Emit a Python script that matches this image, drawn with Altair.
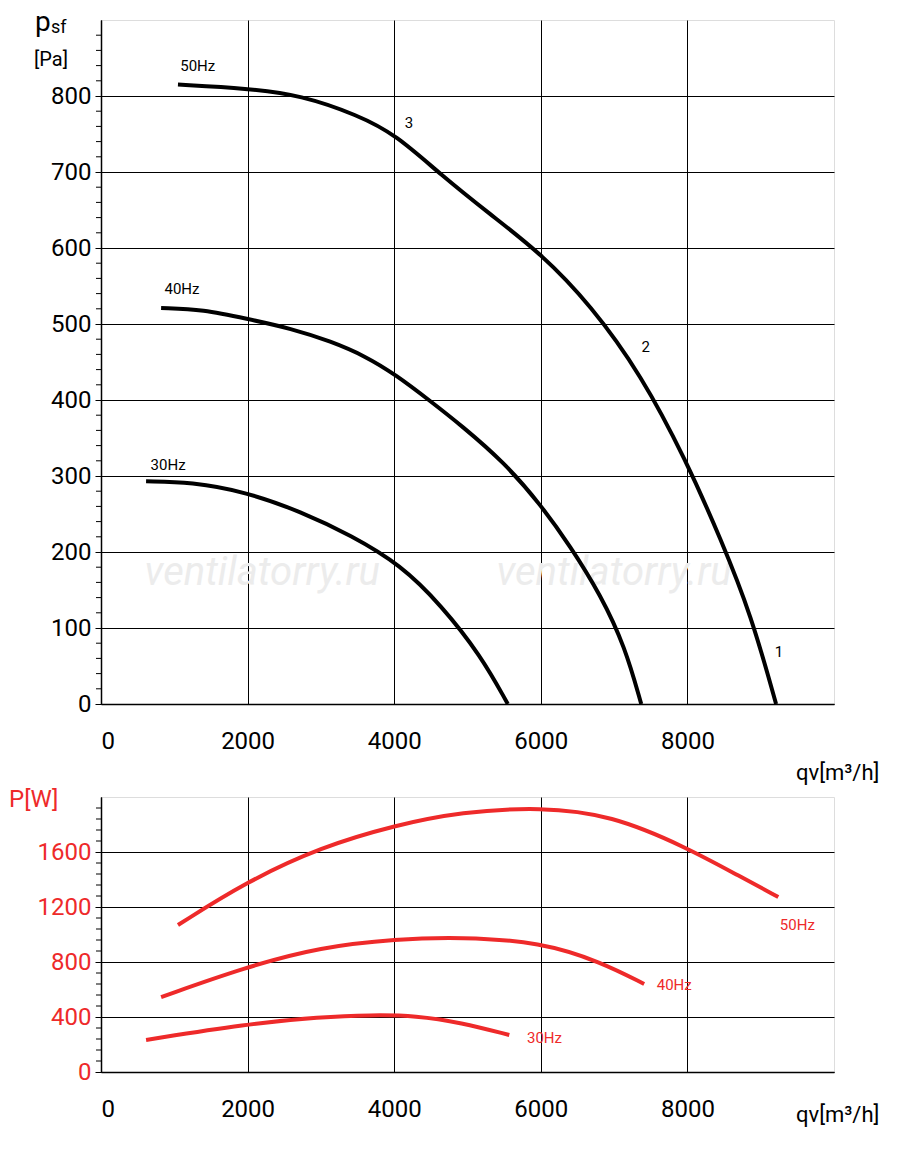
import altair as alt
import pandas as pd

# pressure curves (q m3/h, p Pa)
q50 = [1050, 2000, 2730, 3500, 4025, 4640, 5300, 6000, 6680, 7370, 7980, 8460, 8870, 9210]
p50 = [815, 810, 801, 775, 749, 696, 645, 593, 525, 433, 321, 216, 117, 0]
q40 = [820, 1400, 1980, 2600, 3140, 3600, 4025, 4500, 4910, 5500, 6000, 6400, 6820, 7150, 7370]
p40 = [521, 519, 507, 494, 477, 458, 433, 398, 367, 318, 262, 208, 143, 75, 0]
q30 = [615, 1230, 1980, 2730, 3410, 4090, 4640, 5180, 5550]
p30 = [293, 292, 279, 253, 222, 183, 130, 64, 0]

# power curves (q, W)
wq50 = [1050, 1980, 3000, 4025, 4910, 6000, 6960, 7980, 8730, 9240]
w50 = [1069, 1382, 1636, 1796, 1891, 1927, 1869, 1636, 1418, 1273]
wq40 = [820, 1980, 3000, 4025, 4910, 6000, 6820, 7410]
w40 = [545, 764, 909, 967, 982, 945, 800, 640]
wq30 = [615, 1980, 3000, 3680, 4300, 4910, 5570]
w30 = [233, 349, 400, 415, 410, 360, 269]

top_labels = pd.DataFrame({"q": [1320, 4200, 7430, 9250, 1105, 915],
                           "p": [840, 764, 470, 68, 546, 314],
                           "t": ["50Hz", "3", "2", "1", "40Hz", "30Hz"]})
bot_labels = pd.DataFrame({"q": [9500, 7820, 6050], "w": [1069, 633, 247],
                           "t": ["50Hz", "40Hz", "30Hz"]})
marks = pd.DataFrame({"q": [2200, 7000], "p": [172, 172],
                      "t": ["ventilatorry.ru", "ventilatorry.ru"]})

p_major = list(range(0, 801, 100))
p_minor = [v for v in range(0, 901, 20) if v % 100]
w_major = list(range(0, 1601, 400))
w_minor = [v for v in range(0, 2001, 80) if v % 400]
q_major = [0, 2000, 4000, 6000, 8000]

FONT = "Roboto"
RED = "#ee2a2a"


def curves(qs, vs, name):
    rows = []
    for lab, q, v in zip(["50", "40", "30"], qs, vs):
        for i, (a, b) in enumerate(zip(q, v)):
            rows.append({"q": a, name: b, "s": lab, "o": i})
    return pd.DataFrame(rows)


def text(t, x, y, size, color="black"):
    return alt.Chart(pd.DataFrame({"t": [t]})).mark_text(
        fontSize=size, font=FONT, align="left", color=color).encode(
        x=alt.value(x), y=alt.value(y), text="t:N")


def minor_ticks(vals, scale):
    return alt.Chart(pd.DataFrame({"v": vals})).mark_rule(color="black", strokeWidth=1).encode(
        y=alt.Y("v:Q", scale=scale), x=alt.value(-5), x2=alt.value(0))


xs = alt.Scale(domain=[0, 10000], nice=False)
xaxis = alt.Axis(values=q_major, title=None, grid=True, format="d",
                 gridColor="black", gridOpacity=1, tickSize=0, labelFontSize=24,
                 labelColor="black", labelPadding=25, domainColor="black", domainWidth=1.5,
                 labelFont=FONT, labelOverlap=False)


def yaxis(vals, color):
    return alt.Axis(values=vals, title=None, format="d", grid=True, gridColor="black",
                    gridOpacity=1, tickSize=6, tickColor="black", labelFontSize=24,
                    labelColor=color, domainColor="black", domainWidth=1.5, labelFont=FONT,
                    labelPadding=4, labelOverlap=False)


ys1 = alt.Scale(domain=[0, 900], nice=False)
base1 = alt.Chart(curves([q50, q40, q30], [p50, p40, p30], "p"))
top = alt.layer(
    alt.Chart(marks).mark_text(fontSize=40, fontStyle="italic", color="#ececec", font=FONT).encode(
        x=alt.X("q:Q", scale=xs, axis=xaxis), y=alt.Y("p:Q", scale=ys1, axis=yaxis(p_major, "black")),
        text="t:N"),
    minor_ticks(p_minor, ys1),
    base1.mark_line(color="black", strokeWidth=4, interpolate="basis").encode(
        x=alt.X("q:Q", scale=xs), y=alt.Y("p:Q", scale=ys1), detail="s:N", order="o:Q"),
    alt.Chart(top_labels).mark_text(fontSize=15, font=FONT, color="black").encode(
        x="q:Q", y="p:Q", text="t:N"),
    text("p", -66, 3, 28),
    text("sf", -50, 8, 18),
    text("[Pa]", -67, 40, 20),
    text("qv[m³/h]", 695, 753, 22),
).properties(width=733, height=684)

ys2 = alt.Scale(domain=[0, 2000], nice=False)
base2 = alt.Chart(curves([wq50, wq40, wq30], [w50, w40, w30], "w"))
bottom = alt.layer(
    base2.mark_line(color=RED, strokeWidth=4, interpolate="basis").encode(
        x=alt.X("q:Q", scale=xs, axis=xaxis), y=alt.Y("w:Q", scale=ys2, axis=yaxis(w_major, RED)),
        detail="s:N", order="o:Q"),
    minor_ticks(w_minor, ys2),
    alt.Chart(bot_labels).mark_text(fontSize=15, font=FONT, color=RED).encode(
        x="q:Q", y="w:Q", text="t:N"),
    text("P[W]", -92, 3, 24, RED),
    text("qv[m³/h]", 695, 318, 22),
).properties(width=733, height=275)

chart = alt.vconcat(top, bottom, spacing=2).configure_view(stroke=None).configure(
    padding={"left": 0, "top": 0, "right": 0, "bottom": 0})
chart.save("out.html", embed_options={"renderer": "svg", "actions": False})
